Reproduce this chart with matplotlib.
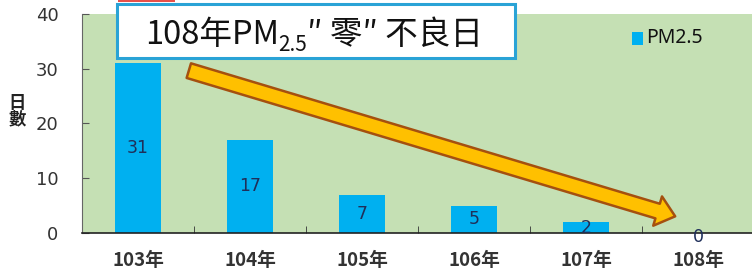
import matplotlib
matplotlib.use("Agg")
import matplotlib.pyplot as plt
from matplotlib.patches import Rectangle, FancyArrowPatch

categories = ["103年", "104年", "105年", "106年", "107年", "108年"]
pm25_days = [31, 17, 7, 5, 2, 0]
y_ticks = [0, 10, 20, 30, 40]
series_name = "PM2.5"

W, H = 752, 270
fig = plt.figure(figsize=(W / 100, H / 100), dpi=100)
fig.patch.set_facecolor("white")

L, R, B, T = 82, 754, 233, 14
ax = fig.add_axes([L / W, (H - B) / H, (R - L) / W, (B - T) / H])
ax.set_facecolor("#c5e0b4")

x = list(range(len(categories)))
ax.bar(x, pm25_days, width=0.41, color="#00b0f0", zorder=2)
for xi, v in zip(x, pm25_days):
    ax.text(xi, v / 2 if v > 0 else -0.8, str(v), ha="center", va="center",
            fontsize=12.5, color="#1f2f5a", family="DejaVu Sans", zorder=3)

ax.set_xlim(-0.5, len(categories) - 0.5)
ax.set_ylim(0, 40)
ax.set_yticks(y_ticks)
ax.set_xticks(x)
ax.set_xticklabels(categories, family=["Noto Sans CJK TC", "DejaVu Sans"],
                   fontsize=13.5, fontweight="bold", color="#333333")
ax.set_xticks([i + 0.5 for i in x[:-1]], minor=True)
ax.tick_params(axis="x", which="major", length=0, pad=13)
ax.tick_params(axis="x", which="minor", direction="in", length=5, color="#333333")
ax.tick_params(axis="y", direction="in", length=5, pad=17, labelsize=13,
               labelcolor="#333333", color="#555555")
for s in ["top", "right"]:
    ax.spines[s].set_visible(False)
ax.spines["left"].set_color("#666666")
ax.spines["bottom"].set_color("#222222")
ax.spines["bottom"].set_linewidth(1.2)

# y label stacked
fig.text(17 / W, 1 - 111 / H, "日\n數", ha="center", va="center", fontsize=12.5,
         fontweight="bold", linespacing=0.9,
         family=["Noto Sans CJK TC", "DejaVu Sans"], color="#222222")

# legend
fig.patches.append(Rectangle((632 / W, 1 - 45 / H), 11 / W, 13 / H,
                             transform=fig.transFigure, color="#00b0f0", lw=0))
fig.text(646 / W, 1 - 38 / H, series_name, ha="left", va="center", fontsize=14,
         family="Noto Sans", color="#111111")

# arrow
arrow = FancyArrowPatch((0.43, 29.8), (4.82, 2.9),
                        arrowstyle="simple,head_width=2.0,head_length=1.2,tail_width=1.0",
                        mutation_scale=11, facecolor="#ffc000", edgecolor="#a5500f",
                        linewidth=1.8, zorder=4)
ax.add_patch(arrow)

# red strip at top
fig.patches.append(Rectangle((118 / W, 1 - 1.5 / H), 57 / W, 1.5 / H,
                             transform=fig.transFigure, color="#e8504a", lw=0, zorder=5))

# title box
fig.patches.append(Rectangle((117 / W, 1 - 58 / H), (515 - 117) / W, 54 / H,
                             transform=fig.transFigure, facecolor="white",
                             edgecolor="#2aa3d6", linewidth=2.2, zorder=5))

fam = ["Noto Sans CJK TC", "DejaVu Sans"]
fig.canvas.draw()
r = fig.canvas.get_renderer()
ybase = 1 - 44 / H
parts = [("108年PM", 23.5, 0), ("2.5", 15, -7), ("″ 零″ 不良日", 23.5, 0)]
texts = []
for s, fs, dy in parts:
    t = fig.text(0, ybase + dy / H, s, fontsize=fs, family=fam, ha="left",
                 va="baseline", color="#111111", zorder=6)
    texts.append(t)
widths = [t.get_window_extent(r).width for t in texts]
total = sum(widths)
start = 314 - total / 2
for t, w in zip(texts, widths):
    t.set_x(start / W)
    start += w

fig.savefig("out.png", dpi=100)
